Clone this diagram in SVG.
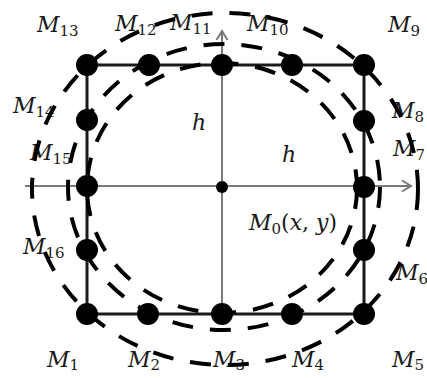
<svg xmlns="http://www.w3.org/2000/svg" width="427" height="378" viewBox="0 0 427 378">
<style>
.lbl{font-family:"DejaVu Serif","Liberation Serif",serif;font-style:italic;font-size:22px;fill:#1a1a1a}
.sub{font-style:normal;font-size:15px}
.up{font-style:normal}
.dot{fill:#000}
.sq{stroke:#1a1a1a;stroke-width:3;fill:none}
.ax{stroke:#7a7a7a;stroke-width:2;fill:none}
.el{fill:none;stroke:#000;stroke-width:4;stroke-dasharray:21 17}
</style>
<defs>
<marker id="arr" markerWidth="14" markerHeight="14" refX="11" refY="7" orient="auto" markerUnits="userSpaceOnUse">
<polyline points="2,1.5 11,7 2,12.5" fill="none" stroke="#7a7a7a" stroke-width="2"/>
</marker>
</defs>
<rect width="427" height="378" fill="#fff"/>
<g id="connectors">
<line class="ax" x1="25" y1="186" x2="411" y2="186" marker-end="url(#arr)"/>
<line class="ax" x1="222" y1="314" x2="222" y2="31" marker-end="url(#arr)"/>
<polyline class="sq" points="87,65 364,65 364,314 87,314 87,65"/>
</g>
<g id="labels-h">
<text class="lbl" x="192" y="130">h</text>
<text class="lbl" x="282" y="162">h</text>
</g>
<g id="M0"><circle class="dot" cx="222" cy="187" r="6"/><text class="lbl" x="249" y="230">M<tspan class="sub" dy="4">0</tspan><tspan class="up" dy="-4">(</tspan>x<tspan class="up">,</tspan> y<tspan class="up">)</tspan></text></g>
<g id="M1"><circle class="dot" cx="87" cy="314" r="11"/><text class="lbl" x="47" y="367">M<tspan class="sub" dy="3">1</tspan></text></g>
<g id="M2"><circle class="dot" cx="148" cy="314" r="11"/><text class="lbl" x="128" y="367">M<tspan class="sub" dy="3">2</tspan></text></g>
<g id="M3"><circle class="dot" cx="222" cy="314" r="11"/><text class="lbl" x="213" y="367">M<tspan class="sub" dy="3">3</tspan></text></g>
<g id="M4"><circle class="dot" cx="292" cy="314" r="11"/><text class="lbl" x="292" y="367">M<tspan class="sub" dy="3">4</tspan></text></g>
<g id="M5"><circle class="dot" cx="364" cy="314" r="11"/><text class="lbl" x="392" y="367">M<tspan class="sub" dy="3">5</tspan></text></g>
<g id="M6"><circle class="dot" cx="364" cy="250" r="11"/><text class="lbl" x="396" y="280">M<tspan class="sub" dy="4">6</tspan></text></g>
<g id="M7"><circle class="dot" cx="364" cy="187" r="11"/><text class="lbl" x="393" y="156">M<tspan class="sub" dy="4">7</tspan></text></g>
<g id="M8"><circle class="dot" cx="364" cy="121" r="11"/><text class="lbl" x="392" y="118">M<tspan class="sub" dy="4">8</tspan></text></g>
<g id="M9"><circle class="dot" cx="364" cy="65" r="11"/><text class="lbl" x="388" y="32">M<tspan class="sub" dy="4">9</tspan></text></g>
<g id="M10"><circle class="dot" cx="292" cy="65" r="11"/><text class="lbl" x="247" y="31">M<tspan class="sub" dy="4">10</tspan></text></g>
<g id="M11"><circle class="dot" cx="222" cy="65" r="11"/><text class="lbl" x="170" y="30">M<tspan class="sub" dy="4">11</tspan></text></g>
<g id="M12"><circle class="dot" cx="149" cy="65" r="11"/><text class="lbl" x="115" y="31">M<tspan class="sub" dy="4">12</tspan></text></g>
<g id="M13"><circle class="dot" cx="87" cy="65" r="11"/><text class="lbl" x="37" y="32">M<tspan class="sub" dy="4">13</tspan></text></g>
<g id="M14"><circle class="dot" cx="87" cy="120" r="11"/><text class="lbl" x="13" y="113">M<tspan class="sub" dy="4">14</tspan></text></g>
<g id="M15"><circle class="dot" cx="87" cy="186" r="11"/><text class="lbl" x="30" y="160">M<tspan class="sub" dy="4">15</tspan></text></g>
<g id="M16"><circle class="dot" cx="87" cy="250" r="11"/><text class="lbl" x="23" y="254">M<tspan class="sub" dy="4">16</tspan></text></g>
<g id="circles">
<ellipse class="el" cx="222" cy="188" rx="135" ry="125"/>
<ellipse class="el" cx="224" cy="187" rx="156" ry="143"/>
<ellipse class="el" cx="225" cy="189" rx="193" ry="176"/>
</g>
</svg>
